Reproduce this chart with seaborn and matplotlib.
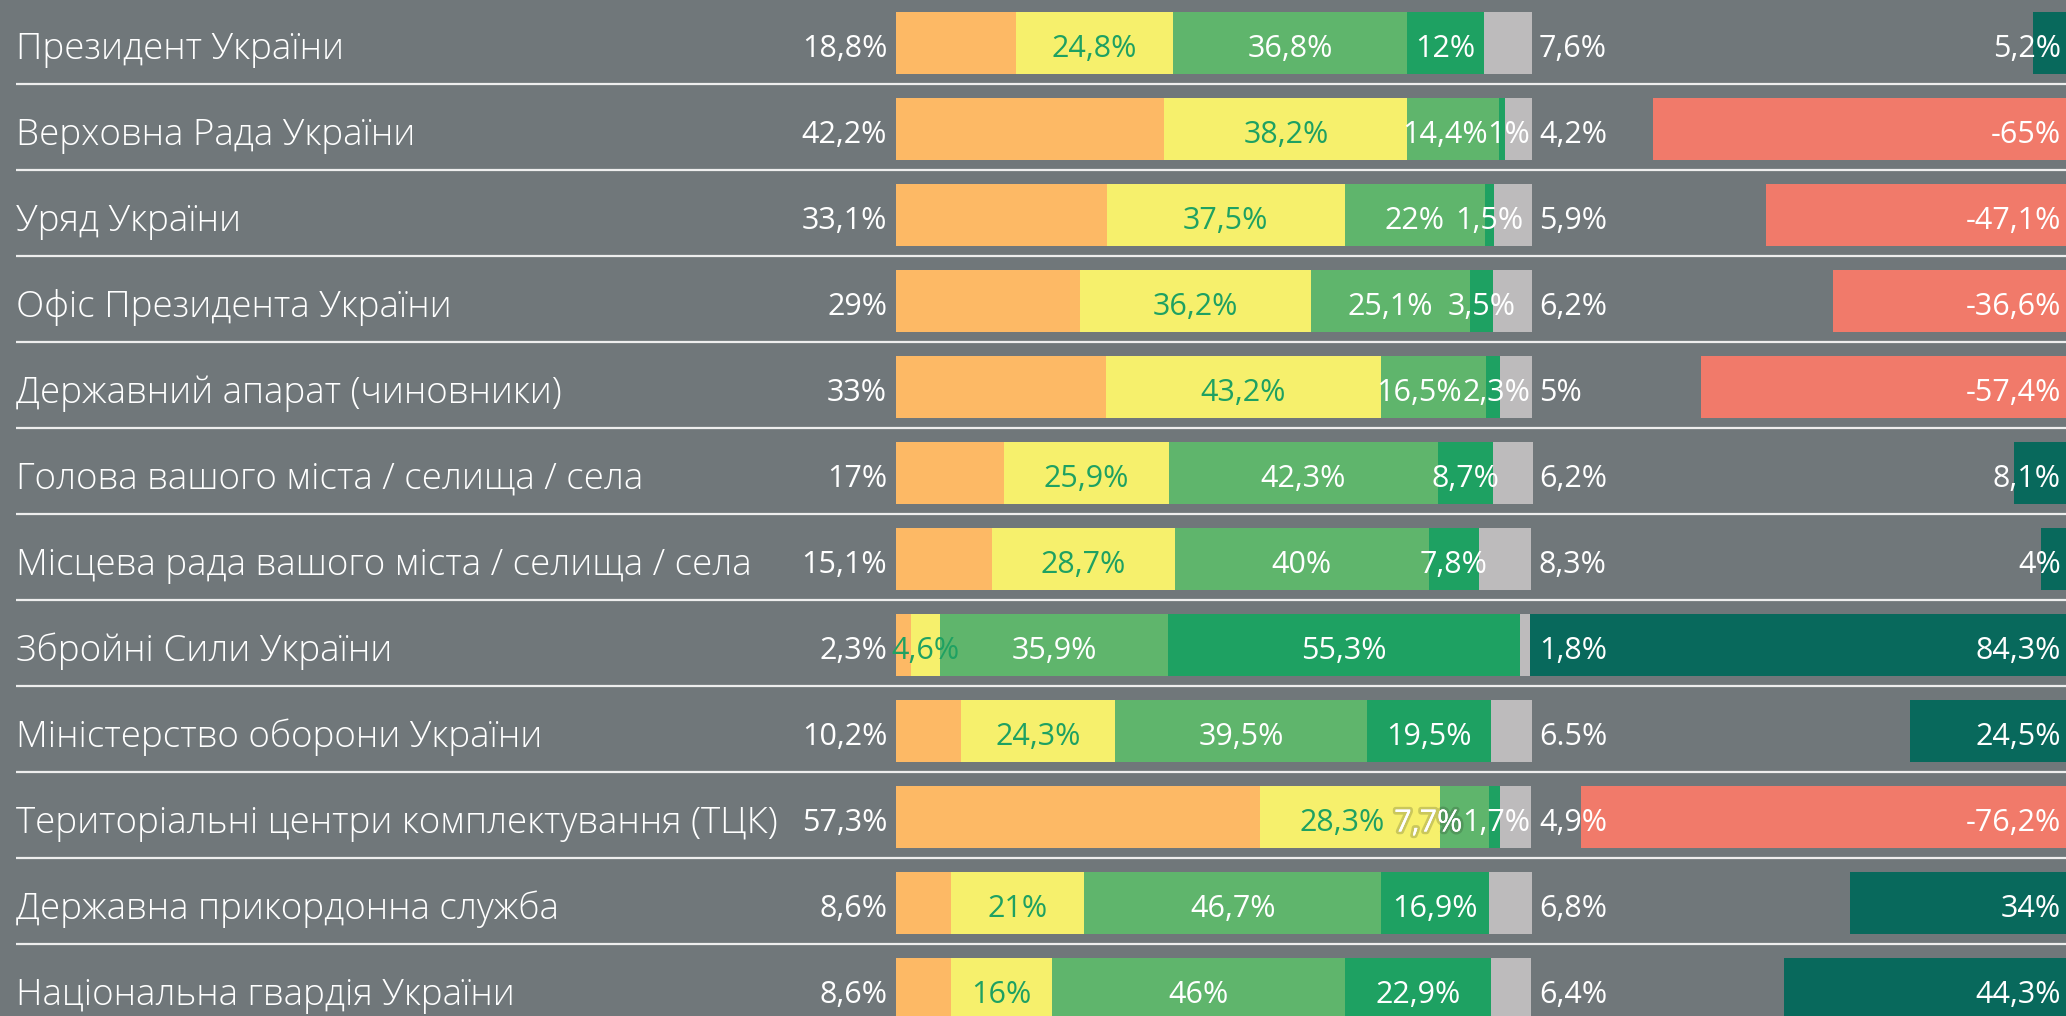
import numpy as np
import pandas as pd
import matplotlib
matplotlib.use('Agg')
import matplotlib.pyplot as plt
import matplotlib.patheffects as pe
import seaborn as sns

# Institutions and shares (%)
institutions = [
    'Президент України',
    'Верховна Рада України',
    'Уряд України',
    'Офіс Президента України',
    'Державний апарат (чиновники)',
    'Голова вашого міста / селища / села',
    'Місцева рада вашого міста / селища / села',
    'Збройні Сили України',
    'Міністерство оборони України',
    'Територіальні центри комплектування (ТЦК)',
    'Державна прикордонна служба',
    'Національна гвардія України',
]
distrust = [18.8, 42.2, 33.1, 29, 33, 17, 15.1, 2.3, 10.2, 57.3, 8.6, 8.6]
rather_distrust = [24.8, 38.2, 37.5, 36.2, 43.2, 25.9, 28.7, 4.6, 24.3, 28.3, 21, 16]
rather_trust = [36.8, 14.4, 22, 25.1, 16.5, 42.3, 40, 35.9, 39.5, 7.7, 46.7, 46]
trust = [12, 1, 1.5, 3.5, 2.3, 8.7, 7.8, 55.3, 19.5, 1.7, 16.9, 22.9]
hard_to_say = [7.6, 4.2, 5.9, 6.2, 5, 6.2, 8.3, 1.8, 6.5, 4.9, 6.8, 6.4]
balance = [5.2, -65, -47.1, -36.6, -57.4, 8.1, 4, 84.3, 24.5, -76.2, 34, 44.3]

BG = '#70777a'
seg_cols = ['distrust', 'rather_distrust', 'rather_trust', 'trust', 'hard']
seg_colors = ['#fdb965', '#f6f06c', '#5fb56c', '#1ea162', '#bdbbbc']
NEG, POS = '#f17a6a', '#08695c'
GREEN_TXT = '#1ea162'


def fmt(v):
    return f'{v:g}'.replace('.', ',') + '%'


df = pd.DataFrame({
    'inst': institutions,
    'distrust': distrust,
    'rather_distrust': rather_distrust,
    'rather_trust': rather_trust,
    'trust': trust,
    'hard': hard_to_say,
    'balance': balance,
})
cum = df[seg_cols].cumsum(axis=1)

sns.set_theme(style='white')
plt.rcParams['font.family'] = ['Open Sans', 'DejaVu Sans']

W, H = 2066, 1016
PX = 6.36      # pixels per percentage point
X0 = 896       # pixel where stacked bars start
ROW, TOP = 86, 43

fig = plt.figure(figsize=(W / 100, H / 100), dpi=100, facecolor=BG)
ax = fig.add_axes([0, 0, 1, 1])
ax.set_facecolor(BG)

# stacked bars, drawn as cumulative layers from the back
for col, c in zip(reversed(seg_cols), reversed(seg_colors)):
    sns.barplot(x=cum[col], y=df['inst'], color=c, width=0.72, saturation=1,
                linewidth=0, orient='h', ax=ax)

ax.set_xlim(-X0 / PX, (W - X0) / PX)
ax.set_ylim((H - TOP) / ROW, -TOP / ROW)

# balance bars grow from the right edge
ax2 = ax.twiny()
df['sign'] = np.where(df['balance'] < 0, 'neg', 'pos')
sns.barplot(x=df['balance'].abs(), y=df['inst'], hue=df['sign'],
            palette={'neg': NEG, 'pos': POS}, width=0.72, saturation=1,
            linewidth=0, orient='h', legend=False, ax=ax2)
ax2.set_xlim(W / PX, 0)
ax.set_ylim((H - TOP) / ROW, -TOP / ROW)

for a in (ax, ax2):
    a.axis('off')

# separators
xl = (16 - X0) / PX
for i in range(len(institutions) - 1):
    ax.plot([xl, (W - X0) / PX], [i + 0.48, i + 0.48], color='#eeeeee', lw=1.6,
            solid_capstyle='butt')

dk_labels = [fmt(v) for v in hard_to_say]
dk_labels[8] = '6.5%'  # the source writes this one with a dot

tr = ax.transData
renderer = fig.canvas.get_renderer()
fs_lab, fs_val = 26.5, 22
dy = 0.075
shadow = [pe.withStroke(linewidth=4, foreground=(0.1, 0.15, 0.1, 0.2)), pe.Normal()]
for i, r in df.iterrows():
    y = i + dy
    ax2.text(xl, y, r['inst'], color='white', fontsize=fs_lab, fontweight='light',
             va='center', ha='left', transform=tr)
    ax2.text(-1.4, y, fmt(r['distrust']), color='white', fontsize=fs_val,
             va='center', ha='right', transform=tr)

    # in-bar labels: centred, then pushed apart and kept inside the bar end
    inner = ['rather_distrust', 'rather_trust', 'trust']
    texts, lefts, widths = [], [], []
    for k, col in enumerate(inner):
        t = ax2.text(0, y, fmt(r[col]), color=GREEN_TXT if k == 0 else 'white',
                     fontsize=fs_val, va='center', ha='left', transform=tr)
        w = t.get_window_extent(renderer).width / PX
        xc = cum.loc[i, col] - r[col] / 2
        texts.append(t)
        widths.append(w)
        lefts.append(xc - w / 2)
    for k in range(1, 3):
        lefts[k] = max(lefts[k], lefts[k - 1] + widths[k - 1])
    right_lim = 100 - 0.3
    for k in range(2, -1, -1):
        lim = right_lim if k == 2 else lefts[k + 1] - (1.5 if k == 0 else 0)
        lefts[k] = min(lefts[k], lim - widths[k])
    for k, (t, lx) in enumerate(zip(texts, lefts)):
        t.set_x(lx)
        seg_start = cum.loc[i, inner[k]] - r[inner[k]]
        if k == 1 and lx < seg_start - 1.5:
            # white text spilling onto the yellow segment gets a soft shadow
            t.set_path_effects(shadow)

    ax2.text(101.1, y, dk_labels[i], color='white', fontsize=fs_val,
             va='center', ha='left', transform=tr)
    ax2.text((W - 5 - X0) / PX, y, fmt(r['balance']), color='white', fontsize=fs_val,
             va='center', ha='right', transform=tr)

fig.savefig('out.png', dpi=100, facecolor=BG)
